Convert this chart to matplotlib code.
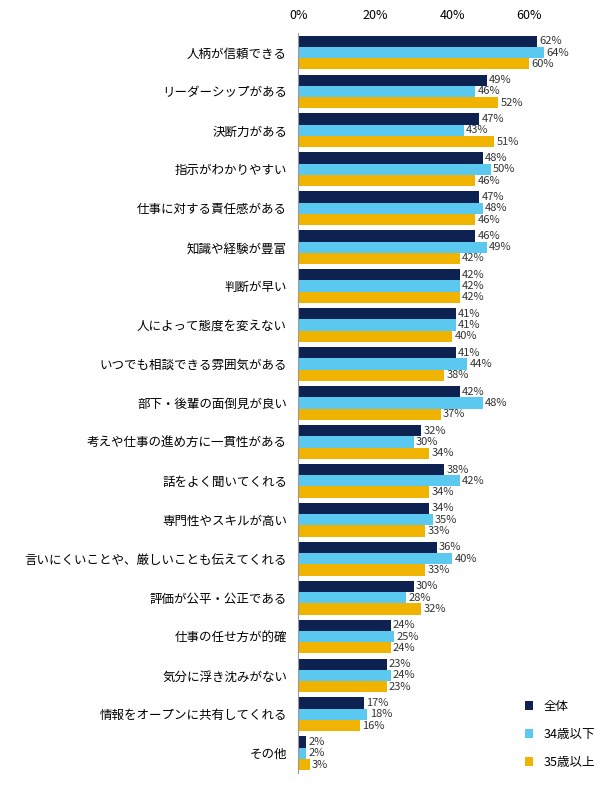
import matplotlib
matplotlib.use("Agg")
import matplotlib.pyplot as plt
import numpy as np

plt.rcParams["font.family"] = "Noto Sans CJK JP"

categories = ["人柄が信頼できる", "リーダーシップがある", "決断力がある", "指示がわかりやすい",
              "仕事に対する責任感がある", "知識や経験が豊富", "判断が早い", "人によって態度を変えない",
              "いつでも相談できる雰囲気がある", "部下・後輩の面倒見が良い",
              "考えや仕事の進め方に一貫性がある", "話をよく聞いてくれる", "専門性やスキルが高い",
              "言いにくいことや、厳しいことも伝えてくれる", "評価が公平・公正である",
              "仕事の任せ方が的確", "気分に浮き沈みがない", "情報をオープンに共有してくれる", "その他"]
all_vals = [62, 49, 47, 48, 47, 46, 42, 41, 41, 42, 32, 38, 34, 36, 30, 24, 23, 17, 2]
young = [64, 46, 43, 50, 48, 49, 42, 41, 44, 48, 30, 42, 35, 40, 28, 25, 24, 18, 2]
older = [60, 52, 51, 46, 46, 42, 42, 40, 38, 37, 34, 34, 33, 33, 32, 24, 23, 16, 3]
series = ["全体", "34歳以下", "35歳以上"]
colors = ["#0E2252", "#5BC8F0", "#F0B300"]

fig = plt.figure(figsize=(6.06, 7.87), dpi=100)
ax = fig.add_axes([0.492, 0.018, 0.508, 0.94])

y = np.arange(len(categories))
h = 0.29
for i, (vals, c) in enumerate(zip([all_vals, young, older], colors)):
    pos = y + (i - 1) * h
    ax.barh(pos, vals, height=h, color=c, label=series[i])
    for p, v in zip(pos, vals):
        ax.text(v + 0.6, p, f"{v}%", va="center", ha="left", fontsize=8, color="#333333")

ax.set_ylim(len(categories) - 0.5, -0.5)
ax.set_xlim(0, 80)
ax.set_yticks(y)
ax.set_yticklabels(categories, fontsize=9)
ax.set_xticks([0, 20, 40, 60])
ax.set_xticklabels(["0%", "20%", "40%", "60%"], fontsize=9)
ax.xaxis.tick_top()
ax.tick_params(length=0, pad=8)
for s in ["top", "right", "bottom"]:
    ax.spines[s].set_visible(False)
ax.spines["left"].set_color("#999999")

ax.legend(loc="lower right", frameon=False, fontsize=9, handlelength=0.7,
          handleheight=0.7, labelspacing=1.2, bbox_to_anchor=(1.0, -0.01))

fig.savefig("out.png", dpi=100)
